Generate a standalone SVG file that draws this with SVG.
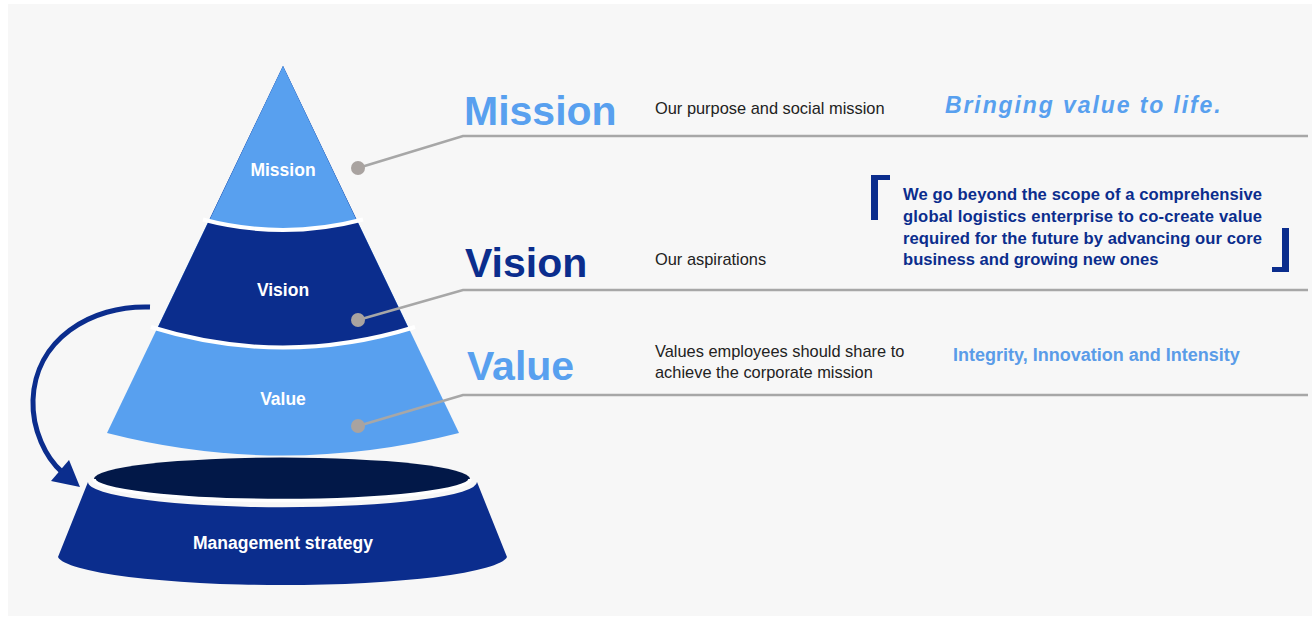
<svg xmlns="http://www.w3.org/2000/svg" width="1312" height="619" viewBox="0 0 1312 619">
<defs>
<style>
.lb{fill:#58A0EF}
.nv{fill:#0B2D8D}
.sep{fill:none;stroke:#FFFFFF;stroke-width:4}
.lbl{font-family:"Liberation Sans",Arial,sans-serif;font-weight:bold;font-size:17.5px;fill:#FFFFFF;text-anchor:middle}
.head{font-family:"Liberation Sans",Arial,sans-serif;font-weight:bold;font-size:41px}
.desc{font-family:"Liberation Sans",Arial,sans-serif;font-size:16.4px;fill:#222222}
.conn{fill:none;stroke:#A7A7A7;stroke-width:2.6}
.dot{fill:#A9A3A0}
.stmt{font-family:"Liberation Sans",Arial,sans-serif;font-weight:bold;font-size:16.6px;fill:#0B2D8D}
</style>
</defs>
<rect x="0" y="0" width="1312" height="619" fill="#FFFFFF"/>
<rect x="8" y="4" width="1304" height="612" fill="#F7F7F7"/>

<g id="node-value">
<path class="lb" d="M283,66 L459,433 Q283,478 107,433 Z"/>
</g>
<g id="node-vision">
<path class="nv" d="M283,66 L409,329 Q283,366 157,329 Z"/>
</g>
<g id="node-mission">
<path class="lb" d="M283,66 L357,221 Q283,239 209,221 Z"/>
</g>
<g id="separators">
<path class="sep" d="M203,219.5 Q283,240.5 363,219.5"/>
<path class="sep" d="M151,327 Q283,368 415,327"/>
</g>
<text class="lbl" x="283" y="176">Mission</text>
<text class="lbl" x="283" y="296">Vision</text>
<text class="lbl" x="283" y="405">Value</text>

<g id="node-management">
<path class="nv" d="M88,482 A193,25 0 0 0 477,482 L507,557 A225,30 0 0 1 58,557 Z"/>
<ellipse cx="282" cy="479" rx="188" ry="21.5" fill="#021848"/>
<path d="M94,479 A188,21.5 0 0 0 470,479" fill="none" stroke="#FFFFFF" stroke-width="3.5"/>
<text class="lbl" x="283" y="549">Management strategy</text>
</g>

<g id="connectors">
<path d="M150,307 C90,305 35,340 33,400 C32,430 46,458 62,472" fill="none" stroke="#0B2D8D" stroke-width="5"/>
<polygon points="51,481 69,460 80,487" fill="#0B2D8D"/>
<polyline class="conn" points="358,168 463,136 1308,136"/>
<polyline class="conn" points="358,320 463,290 1308,290"/>
<polyline class="conn" points="358,426 463,395 1308,395"/>
<circle class="dot" cx="358" cy="168" r="7"/>
<circle class="dot" cx="358" cy="320" r="7"/>
<circle class="dot" cx="358" cy="426" r="7"/>
</g>

<g id="row-mission">
<text class="head" x="464" y="125" fill="#58A0EF">Mission</text>
<text class="desc" x="655" y="114">Our purpose and social mission</text>
<text x="945" y="113" font-family="'Liberation Sans',Arial,sans-serif" font-weight="bold" font-style="italic" font-size="23" letter-spacing="1.9" fill="#58A0EF">Bringing value to life.</text>
</g>

<g id="row-vision">
<text class="head" x="465" y="277" fill="#0B2D8D">Vision</text>
<text class="desc" x="655" y="265">Our aspirations</text>
<rect x="871" y="175" width="7" height="45" fill="#0B2D8D"/>
<rect x="871" y="175" width="19" height="5" fill="#0B2D8D"/>
<rect x="1282" y="228" width="7" height="44" fill="#0B2D8D"/>
<rect x="1272" y="267" width="17" height="5" fill="#0B2D8D"/>
<text class="stmt" x="903" y="200" textLength="359" lengthAdjust="spacing">We go beyond the scope of a comprehensive</text>
<text class="stmt" x="903" y="222" textLength="359" lengthAdjust="spacing">global logistics enterprise to co-create value</text>
<text class="stmt" x="903" y="244" textLength="359" lengthAdjust="spacing">required for the future by advancing our core</text>
<text class="stmt" x="903" y="265">business and growing new ones</text>
</g>

<g id="row-value">
<text class="head" x="467" y="380" fill="#58A0EF">Value</text>
<text class="desc" x="655" y="357">Values employees should share to</text>
<text class="desc" x="655" y="378">achieve the corporate mission</text>
<text x="953" y="361" font-family="'Liberation Sans',Arial,sans-serif" font-weight="bold" font-size="18" fill="#5A9CE8">Integrity, Innovation and Intensity</text>
</g>
</svg>
